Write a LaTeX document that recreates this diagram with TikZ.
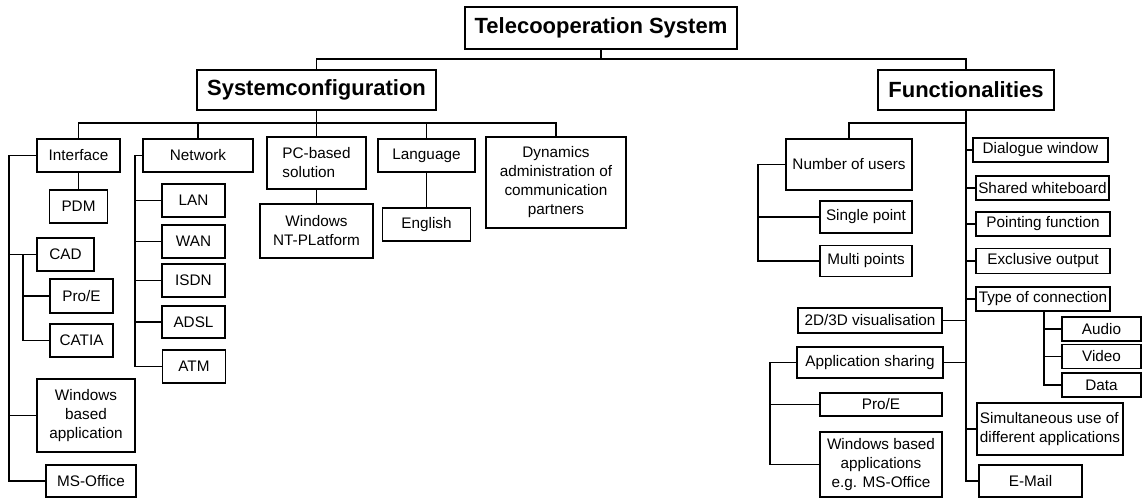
\documentclass[tikz,border=0pt]{standalone}
\usepackage{fontspec}
\setmainfont{Liberation Sans}

\begin{document}
\begin{tikzpicture}[x=1pt, y=-1pt, line width=1.4pt,
  font=\fontsize{15.3}{19}\selectfont,
  box/.style={draw, align=center, inner sep=0pt},
  head/.style={draw, inner sep=0pt, font=\fontsize{22}{26}\selectfont\bfseries},
  sz/.style 2 args={minimum width=#1, minimum height=#2}]

\useasboundingbox (0,0) rectangle (1144,498);

\node[head, sz={272}{42}] (tele) at (601,28) {Telecooperation System};
\node[head, sz={239}{40}] (syscfg) at (316.5,90) {Systemconfiguration};
\node[head, sz={176}{40}] (func) at (966,90) {Functionalities};

% system configuration
\node[box, sz={83}{33}] (iface) at (78.5,155.5) {Interface};
\node[box, sz={110}{33}] (net) at (198,155.5) {Network};
\node[box, sz={99}{52}, align=left] (pc) at (316.5,163) {PC-based\\solution};
\node[box, sz={97}{33}] (lang) at (426.5,155.5) {Language};
\node[box, sz={140}{91}] (dyn) at (556,182.5) {Dynamics\\administration of\\communication\\partners};

\node[box, sz={58}{33}] (pdm) at (78.5,206.5) {PDM};
\node[box, sz={57}{33}] (cad) at (65.5,254.5) {CAD};
\node[box, sz={63}{34}] (proe1) at (81.5,296) {Pro/E};
\node[box, sz={63}{33}] (catia) at (81.5,340.5) {CATIA};
\node[box, sz={98}{73}] (winapp) at (86,415.5) {Windows\\based\\application};
\node[box, sz={90}{32}] (msoff) at (91,481) {MS-Office};

\node[box, sz={63}{33}] (lan) at (193.5,200.5) {LAN};
\node[box, sz={63}{33}] (wan) at (193.5,241.5) {WAN};
\node[box, sz={63}{33}] (isdn) at (193.5,280.5) {ISDN};
\node[box, sz={63}{32}] (adsl) at (193.5,322) {ADSL};
\node[box, sz={63}{33}] (atm) at (194,366.5) {ATM};

\node[box, sz={113}{54}] (winnt) at (316.5,231) {Windows\\NT-PLatform};
\node[box, sz={88}{33}] (english) at (426.5,224.5) {English};

% functionalities
\node[box, sz={126}{51}] (users) at (849,164.5) {Number of users};
\node[box, sz={92}{32}] (single) at (866,217) {Single point};
\node[box, sz={92}{31}] (multi) at (866,261) {Multi points};
\node[box, sz={135}{24}] (dialog) at (1040.5,150) {Dialogue window};
\node[box, sz={133}{24}] (shared) at (1042.5,188) {Shared whiteboard};
\node[box, sz={134}{24}] (point) at (1043,224) {Pointing function};
\node[box, sz={134}{25}] (excl) at (1043,261) {Exclusive output};
\node[box, sz={134}{24}] (typec) at (1043,299) {Type of connection};
\node[box, sz={79}{24}] (audio) at (1101.5,329) {Audio};
\node[box, sz={79}{24}] (video) at (1101.5,356.5) {Video};
\node[box, sz={79}{24}] (data) at (1101.5,385) {Data};
\node[box, sz={146}{52}, align=left] (simul) at (1050,429) {Simultaneous use of\\different applications};
\node[box, sz={103}{32}] (email) at (1030.5,481) {E-Mail};
\node[box, sz={144}{25}] (vis) at (870,320.5) {2D/3D visualisation};
\node[box, sz={146}{31}] (appsh) at (870,362.5) {Application sharing};
\node[box, sz={122}{23}] (proe2) at (881,404.5) {Pro/E};
\node[box, sz={122}{65}] (winapps) at (881,464.5) {Windows based\\applications\\e.g. MS-Office};

% top level lines
\coordinate (tb) at (601,59);
\draw (tele.south) -- (tb);
\draw (syscfg.north) |- (tb) -| (func.north);

% system configuration lines
\coordinate (sb) at (316.5,123);
\draw (syscfg.south) -- (sb);
\foreach \n in {iface,net,pc,lang,dyn} \draw (sb) -| (\n.north);
\draw (iface.south) -- (pdm.north);
\draw (pc.south) -- (winnt.north);
\draw (lang.south) -- (english.north);

\coordinate (ibus) at (9,155.5);
\draw (iface.west) -- (ibus) |- (msoff.west);
\foreach \n in {cad,winapp} \draw (\n.west) -- (\n.west -| ibus);
\coordinate (cbus) at (23,254.5);
\draw (cbus) |- (catia.west);
\draw (proe1.west) -- (proe1.west -| cbus);

\coordinate (nbus) at (135,155.5);
\draw (net.west) -- (nbus) |- (atm.west);
\foreach \n in {lan,wan,isdn,adsl} \draw (\n.west) -- (\n.west -| nbus);

% functionalities lines
\coordinate (fb) at (966,123);
\draw (func.south) -- (fb) -| (users.north);
\draw (fb) |- (email.west);
\foreach \n in {dialog,shared,point,excl,typec,simul} \draw (\n.west) -- (\n.west -| fb);
\foreach \n in {vis,appsh} \draw (\n.east) -- (\n.east -| fb);

\coordinate (ubus) at (758,164.5);
\draw (users.west) -- (ubus) |- (multi.west);
\draw (single.west) -- (single.west -| ubus);

\coordinate (tcb) at ([xshift=1pt]typec.south);
\draw (tcb) |- (data.west);
\foreach \n in {audio,video} \draw (\n.west) -- (\n.west -| tcb);

\coordinate (abus) at (770,362.5);
\draw (appsh.west) -- (abus) |- (winapps.west);
\draw (proe2.west) -- (proe2.west -| abus);

\end{tikzpicture}
\end{document}
